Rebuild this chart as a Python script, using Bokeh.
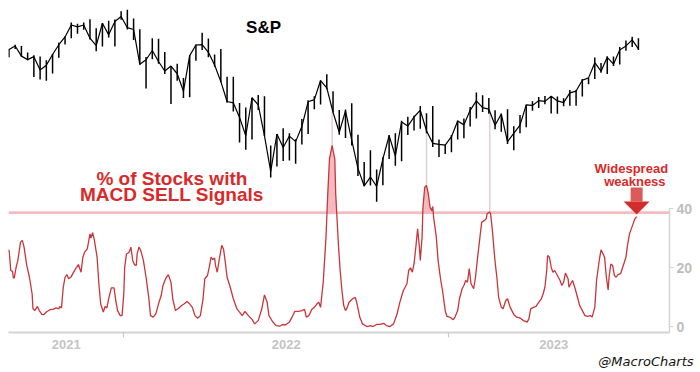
import numpy as np
import pandas as pd
from bokeh.plotting import figure
from bokeh.models import Range1d, LogScale, FixedTicker, Span, Label, Title
from bokeh.embed import file_html
from bokeh.resources import INLINE

# ---------------- data ----------------
# S&P 500 weekly bars (weeks centred on Wednesdays, from the week of 2021-08-25)
sp_first_week = "2021-08-25"
sp_high = [4513, 4545, 4536, 4486, 4465, 4457, 4429, 4475, 4560, 4608, 4718, 4708, 4717, 4743, 4672, 4713, 4732, 4741, 4808,
           4819, 4749, 4664, 4453, 4595, 4590, 4490, 4385, 4402, 4299, 4465, 4546, 4637, 4593, 4471, 4513, 4308, 4307, 4121,
           4090, 4158, 4178, 4168, 3838, 3913, 3950, 3918, 3878, 4013, 4140, 4168, 4281, 4325, 4203, 4073, 4077, 4119, 3907,
           3733, 3807, 3686, 3763, 3906, 3918, 4001, 4028, 4034, 4101, 4052, 4101, 3877, 3846,
           3906, 4003, 4015, 4094, 4195, 4176, 4156, 4071, 4049, 4079, 3964, 4040, 4110, 4133, 4163, 4170, 4170, 4167, 4155,
           4213, 4212, 4291, 4299, 4448, 4408, 4458, 4456, 4528, 4578, 4607, 4595]
sp_low = [4450, 4513, 4457, 4428, 4306, 4288, 4279, 4330, 4447, 4546, 4595, 4630, 4660, 4585, 4495, 4532, 4600, 4531, 4740,
          4663, 4582, 4395, 4223, 4435, 4402, 4327, 4115, 4279, 4157, 4161, 4424, 4505, 4450, 4381, 4267, 4124, 4063, 3858,
          3810, 3876, 4073, 3900, 3637, 3705, 3739, 3742, 3722, 3845, 3913, 4079, 4112, 4218, 4057, 3907, 3887, 3838, 3647,
          3584, 3588, 3492, 3590, 3752, 3710, 3738, 3906, 3936, 3947, 3918, 3828, 3765, 3783,
          3794, 3877, 3885, 3963, 4015, 4060, 4048, 3944, 3928, 3847, 3808, 3917, 3958, 4069, 4087, 4113, 4049, 4048, 4099,
          4103, 4103, 4167, 4253, 4291, 4336, 4328, 4385, 4397, 4500, 4528, 4505]
sp_close = [4509, 4535, 4459, 4433, 4455, 4357, 4391, 4471, 4545, 4605, 4698, 4683, 4698, 4595, 4538, 4712, 4621, 4726, 4766,
            4677, 4663, 4398, 4432, 4501, 4419, 4349, 4385, 4329, 4204, 4463, 4543, 4546, 4488, 4393, 4272, 4132, 4123, 4023,
            3901, 4158, 4109, 3901, 3675, 3912, 3825, 3899, 3863, 3962, 4130, 4145, 4280, 4228, 4058, 3924, 4067, 3873, 3693,
            3586, 3640, 3583, 3753, 3901, 3771, 3993, 3965, 4026, 4072, 3934, 3852, 3845, 3840,
            3895, 3999, 3973, 4071, 4136, 4090, 4079, 3970, 4046, 3862, 3917, 3971, 4109, 4105, 4138, 4133, 4169, 4136, 4124,
            4192, 4205, 4282, 4299, 4410, 4348, 4450, 4399, 4505, 4536, 4582, 4513]

# % of stocks with MACD sell signals
red_dates = [
    "2021-08-24", "2021-08-25", "2021-08-26", "2021-08-27", "2021-08-29", "2021-08-30", "2021-08-31", "2021-09-02", "2021-09-04", "2021-09-07",
    "2021-09-09", "2021-09-11", "2021-09-14", "2021-09-17", "2021-09-20", "2021-09-21", "2021-09-23", "2021-09-26", "2021-09-28", "2021-10-01",
    "2021-10-03", "2021-10-06", "2021-10-10", "2021-10-14", "2021-10-17", "2021-10-20", "2021-10-21", "2021-10-23", "2021-10-25", "2021-10-27",
    "2021-10-29", "2021-10-31", "2021-11-03", "2021-11-05", "2021-11-08", "2021-11-11", "2021-11-14", "2021-11-16", "2021-11-18", "2021-11-21",
    "2021-11-22", "2021-11-24", "2021-11-25", "2021-11-27", "2021-11-29", "2021-12-02", "2021-12-04", "2021-12-06", "2021-12-09", "2021-12-11",
    "2021-12-13", "2021-12-15", "2021-12-18", "2021-12-21", "2021-12-23", "2021-12-25", "2021-12-28", "2021-12-30", "2022-01-01", "2022-01-02",
    "2022-01-04", "2022-01-07", "2022-01-09", "2022-01-11", "2022-01-13", "2022-01-15", "2022-01-16", "2022-01-18", "2022-01-20", "2022-01-23",
    "2022-01-26", "2022-01-29", "2022-01-31", "2022-02-03", "2022-02-06", "2022-02-09", "2022-02-12", "2022-02-14", "2022-02-17", "2022-02-20",
    "2022-02-23", "2022-02-25", "2022-02-28", "2022-03-03", "2022-03-07", "2022-03-10", "2022-03-13", "2022-03-16", "2022-03-19", "2022-03-22",
    "2022-03-25", "2022-03-28", "2022-03-31", "2022-04-02", "2022-04-05", "2022-04-07", "2022-04-09", "2022-04-11", "2022-04-13", "2022-04-14",
    "2022-04-16", "2022-04-18", "2022-04-21", "2022-04-23", "2022-04-25", "2022-04-27", "2022-04-30", "2022-05-04", "2022-05-08", "2022-05-11",
    "2022-05-14", "2022-05-17", "2022-05-21", "2022-05-25", "2022-05-28", "2022-06-01", "2022-06-05", "2022-06-08", "2022-06-11", "2022-06-13",
    "2022-06-17", "2022-06-21", "2022-06-25", "2022-06-28", "2022-07-02", "2022-07-06", "2022-07-09", "2022-07-12", "2022-07-16", "2022-07-20",
    "2022-07-23", "2022-07-25", "2022-07-28", "2022-07-31", "2022-08-03", "2022-08-06", "2022-08-08", "2022-08-10", "2022-08-13", "2022-08-16",
    "2022-08-18", "2022-08-20", "2022-08-23", "2022-08-24", "2022-08-26", "2022-08-27", "2022-08-30", "2022-09-01", "2022-09-03", "2022-09-05",
    "2022-09-07", "2022-09-09", "2022-09-11", "2022-09-15", "2022-09-18", "2022-09-20", "2022-09-23", "2022-09-26", "2022-10-01", "2022-10-05",
    "2022-10-08", "2022-10-12", "2022-10-16", "2022-10-20", "2022-10-23", "2022-10-27", "2022-10-31", "2022-11-04", "2022-11-07", "2022-11-11",
    "2022-11-15", "2022-11-17", "2022-11-19", "2022-11-21", "2022-11-23", "2022-11-25", "2022-11-27", "2022-11-29", "2022-11-30", "2022-12-02",
    "2022-12-03", "2022-12-05", "2022-12-07", "2022-12-09", "2022-12-11", "2022-12-13", "2022-12-14", "2022-12-15", "2022-12-18", "2022-12-20",
    "2022-12-23", "2022-12-25", "2022-12-28", "2022-12-30", "2023-01-02", "2023-01-06", "2023-01-08", "2023-01-11", "2023-01-13", "2023-01-16",
    "2023-01-18", "2023-01-20", "2023-01-22", "2023-01-24", "2023-01-26", "2023-01-29", "2023-01-31", "2023-02-02", "2023-02-05", "2023-02-07",
    "2023-02-10", "2023-02-12", "2023-02-13", "2023-02-16", "2023-02-17", "2023-02-19", "2023-02-22", "2023-02-24", "2023-02-26", "2023-03-01",
    "2023-03-03", "2023-03-06", "2023-03-08", "2023-03-11", "2023-03-15", "2023-03-18", "2023-03-22", "2023-03-26", "2023-03-30", "2023-04-01",
    "2023-04-03", "2023-04-06", "2023-04-09", "2023-04-12", "2023-04-15", "2023-04-17", "2023-04-19", "2023-04-21", "2023-04-22", "2023-04-24",
    "2023-04-26", "2023-04-28", "2023-04-30", "2023-05-03", "2023-05-06", "2023-05-08", "2023-05-10", "2023-05-12", "2023-05-15", "2023-05-16",
    "2023-05-18", "2023-05-20", "2023-05-23", "2023-05-26", "2023-05-28", "2023-05-31", "2023-06-03", "2023-06-06", "2023-06-09", "2023-06-11",
    "2023-06-14", "2023-06-16", "2023-06-19", "2023-06-21", "2023-06-23", "2023-06-25", "2023-06-27", "2023-06-29", "2023-06-30", "2023-07-02",
    "2023-07-04", "2023-07-06", "2023-07-08", "2023-07-10", "2023-07-13", "2023-07-16", "2023-07-19", "2023-07-21", "2023-07-23", "2023-07-25",
    "2023-07-27", "2023-07-29", "2023-07-31"]
red_values = [
    25.2, 26.0, 23.0, 19.0, 18.7, 16.5, 16.5, 20.0, 22.4, 28.6,
    29.2, 26.9, 20.7, 16.7, 11.1, 6.0, 5.4, 6.8, 5.4, 4.1,
    4.0, 4.9, 5.7, 5.9, 6.3, 6.0, 6.8, 6.3, 13.3, 16.7,
    17.6, 16.2, 16.9, 18.1, 19.6, 21.0, 18.4, 23.5, 25.2, 26.3,
    28.0, 31.4, 30.0, 31.8, 29.2, 23.5, 14.5, 7.7, 4.9, 6.8,
    6.3, 9.4, 13.1, 13.1, 8.8, 5.4, 3.7, 3.7, 11.1, 20.1,
    24.6, 25.2, 26.9, 22.4, 21.0, 20.7, 24.6, 26.9, 25.8, 22.4,
    16.7, 9.9, 3.7, 3.2, 4.3, 7.7, 10.5, 13.9, 16.2, 17.6,
    15.0, 9.4, 5.4, 6.0, 7.1, 7.7, 8.5, 7.7, 6.5, 3.7,
    2.8, 3.7, 9.4, 16.2, 17.3, 20.1, 23.5, 22.7, 23.2, 20.7,
    18.4, 22.4, 27.5, 26.3, 21.8, 16.7, 13.9, 9.4, 6.0, 4.9,
    3.7, 5.1, 3.7, 2.4, 0.9, 2.0, 6.0, 10.7, 8.2, 3.7,
    1.7, 0.3, 0.1, 0.6, 0.6, 1.5, 3.2, 5.1, 5.1, 5.4,
    5.8, 3.2, 3.7, 5.8, 6.5, 7.7, 8.2, 6.5, 15.0, 29.7,
    44.4, 56.8, 61.4, 59.7, 56.8, 45.0, 28.0, 19.0, 12.2, 7.1,
    5.4, 6.5, 8.2, 9.4, 9.9, 7.7, 3.2, 0.9, 0.0, 0.3,
    0.0, 0.7, 0.7, 1.1, 0.3, 0.0, 0.9, 4.3, 8.2, 12.2,
    14.5, 19.0, 19.9, 18.4, 21.2, 26.9, 33.1, 26.9, 22.4, 30.3,
    40.4, 47.2, 47.8, 45.0, 40.4, 39.3, 40.7, 37.0, 30.3, 22.4,
    15.6, 12.2, 5.4, 3.4, 3.2, 2.3, 3.2, 5.4, 9.4, 12.8,
    13.9, 15.6, 15.0, 19.6, 14.5, 12.8, 16.7, 22.4, 30.3, 35.4,
    35.9, 36.5, 38.2, 38.8, 38.2, 32.5, 22.0, 16.7, 9.9, 6.5,
    6.0, 8.8, 9.4, 6.5, 4.1, 3.2, 2.9, 2.0, 1.5, 2.6,
    6.0, 6.5, 6.8, 8.2, 9.4, 11.1, 13.3, 19.0, 24.1, 23.5,
    20.1, 18.4, 19.0, 17.3, 15.6, 13.9, 15.0, 18.1, 16.2, 13.3,
    14.5, 15.6, 12.8, 9.4, 7.1, 5.4, 3.7, 3.4, 3.7, 3.2,
    6.5, 15.6, 22.4, 26.0, 24.8, 23.5, 16.7, 12.4, 16.7, 21.2,
    20.7, 17.3, 16.7, 17.6, 17.9, 20.7, 23.5, 28.0, 31.4, 33.1,
    34.8, 36.5, 37.2]

threshold = 38.6
right_ticks = [0, 20, 40]
year_labels = ["2021", "2022", "2023"]

assert len(red_dates) == len(red_values)
assert len(sp_high) == len(sp_low) == len(sp_close)

# ---------------- helpers ----------------
def ms(ts):
    return float(pd.Timestamp(ts).value // 10**6)

DAY = 86400000.0
x0 = ms("2021-08-24 12:00")
x1 = ms("2023-09-05 22:00")
y0, y1 = -2.03, 107.8
s0, s1 = 2804.0, 4830.0
FRAME_W, FRAME_H = 661, 324

rx = np.array([ms(d) for d in red_dates])
rv = np.array(red_values, dtype=float)
sp_x = np.array([ms(d) for d in pd.date_range(sp_first_week, periods=len(sp_close), freq="7D")])
sp_h = np.array(sp_high, float)
sp_l = np.array(sp_low, float)
sp_c = np.array(sp_close, float)

p = figure(width=700, height=372, output_backend="svg", toolbar_location=None,
           x_range=Range1d(x0, x1), y_range=Range1d(y0, y1),
           extra_y_ranges={"sp": Range1d(s0, s1)}, extra_y_scales={"sp": LogScale()},
           y_axis_location="right",
           min_border_left=8, min_border_top=8, min_border_bottom=40, min_border_right=31)
p.outline_line_color = None
p.xgrid.visible = False
p.ygrid.visible = False
p.background_fill_color = "white"
p.border_fill_color = "white"

# threshold line
p.add_layout(Span(location=threshold, dimension="width", line_color="#f3bcc0",
                  line_width=2.6, level="underlay"))

# fill above threshold (insert crossing points)
fx, fy = [rx[0]], [rv[0]]
for i in range(1, len(rx)):
    a, b = rv[i - 1], rv[i]
    if (a - threshold) * (b - threshold) < 0:
        t = (threshold - a) / (b - a)
        fx.append(rx[i - 1] + t * (rx[i] - rx[i - 1]))
        fy.append(threshold)
    fx.append(rx[i])
    fy.append(rv[i])
fx = np.array(fx)
fy = np.array(fy)
p.varea(x=fx, y1=threshold, y2=np.maximum(fy, threshold), fill_color="#f4b3b8", fill_alpha=0.9)

# connectors from peaks above threshold up to the S&P
peaks = []
i = 0
above = rv > threshold
while i < len(rv):
    if above[i]:
        j = i
        while j < len(rv) and above[j]:
            j += 1
        peaks.append(i + int(np.argmax(rv[i:j])))
        i = j
    else:
        i += 1
cx, c_top, c_bot = [], [], []
for k in peaks:
    frac = (rv[k] - y0) / (y1 - y0)
    price_at_peak = np.exp(np.log(s0) + frac * (np.log(s1) - np.log(s0)))
    w = int(np.argmin(np.abs(sp_x - rx[k])))
    cx.append(rx[k])
    c_bot.append(price_at_peak)
    c_top.append(sp_l[w])
p.segment(x0=cx, y0=c_bot, x1=cx, y1=c_top, y_range_name="sp",
          line_color="#e2d0d0", line_width=1.5)

# S&P bars
p.segment(x0=sp_x, y0=sp_l, x1=sp_x, y1=sp_h, y_range_name="sp", line_color="black", line_width=1.5)
p.line(sp_x, sp_c, y_range_name="sp", line_color="black", line_width=1.2)

# red line
p.line(rx, rv, line_color="#c8353a", line_width=1.3)

# arrow pointing at the latest value
ms_per_px = (x1 - x0) / FRAME_W
u_per_px = (y1 - y0) / FRAME_H
tip_x, tip_y = rx[-1], rv[-1] + 0.8
hw, hh, sw, sh = 13 * ms_per_px, 13 * u_per_px, 6 * ms_per_px, 14 * u_per_px
p.patch([tip_x - sw, tip_x + sw, tip_x + sw, tip_x - sw],
        [tip_y + hh, tip_y + hh, tip_y + hh + sh, tip_y + hh + sh],
        fill_color="#dc5a5a", line_color=None)
p.patch([tip_x - hw, tip_x + hw, tip_x], [tip_y + hh, tip_y + hh, tip_y],
        fill_color="#d32c2c", line_color=None)

# axes
year_starts = [ms(f"{y}-01-01") for y in year_labels]
label_pos = []
for idx, y in enumerate(year_labels):
    a = max(year_starts[idx], x0)
    b = min(ms(f"{int(y) + 1}-01-01"), x1 - 12 * DAY)
    label_pos.append((a + b) / 2.0)
boundaries = [s for s in year_starts if x0 < s < x1]

xa = p.xaxis[0]
xa.ticker = FixedTicker(ticks=label_pos, minor_ticks=boundaries)
xa.major_label_overrides = {lp: lab for lp, lab in zip(label_pos, year_labels)}
xa.major_tick_line_color = None
xa.major_tick_out = 0
xa.major_tick_in = 0
xa.minor_tick_line_color = "#c8c8c8"
xa.minor_tick_out = 5
xa.minor_tick_in = 0
xa.minor_tick_line_width = 1.2
xa.axis_line_color = "#d4d4d4"
xa.axis_line_width = 2
xa.major_label_standoff = 2
xa.major_label_text_color = "#c4c4c4"
xa.major_label_text_font = "Liberation Sans"
xa.major_label_text_font_style = "bold"
xa.major_label_text_font_size = "13px"

ya = p.yaxis[0]
ya.ticker = FixedTicker(ticks=right_ticks)
ya.bounds = (y0, max(right_ticks))
ya.axis_line_color = "#d4d4d4"
ya.axis_line_width = 1.5
ya.major_tick_line_color = "#d4d4d4"
ya.major_tick_out = 4
ya.major_tick_in = 0
ya.minor_tick_line_color = None
ya.major_label_standoff = 3
ya.major_label_text_color = "#bdbdbd"
ya.major_label_text_font = "Liberation Sans"
ya.major_label_text_font_style = "bold"
ya.major_label_text_font_size = "14px"

# credit line under the axis
p.add_layout(Title(text="@MacroCharts", align="right", offset=-24, standoff=0,
                   text_font="DejaVu Sans", text_font_style="italic",
                   text_font_size="13px", text_color="#111111"), "below")

# texts
def lab(x, y, text, size, color, style="bold", align="center", font="Liberation Sans"):
    p.add_layout(Label(x=ms(x), y=y, text=text, text_align=align, text_baseline="middle",
                       text_font=font, text_font_style=style, text_font_size=size,
                       text_color=color))

lab("2022-06-07", 101.4, "S&P", "17px", "black")
lab("2022-02-24", 50.2, "% of Stocks with", "19px", "#d82a2a")
lab("2022-02-24", 44.9, "MACD SELL Signals", "19px", "#d82a2a")
lab("2023-07-25", 53.6, "Widespread", "13px", "#d82a2a")
lab("2023-07-29", 49.3, "weakness", "13px", "#d82a2a")

open("out.html", "w").write(file_html(p, INLINE))
